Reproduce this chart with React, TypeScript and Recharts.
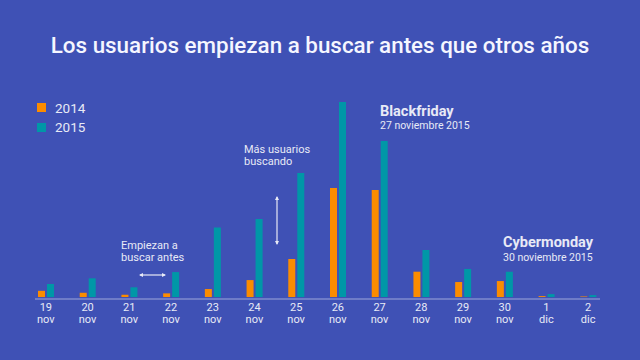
import { BarChart, Bar, XAxis, YAxis, Legend, Customized } from "recharts";

const days = ["19", "20", "21", "22", "23", "24", "25", "26", "27", "28", "29", "30", "1", "2"];
const months = ["nov", "nov", "nov", "nov", "nov", "nov", "nov", "nov", "nov", "nov", "nov", "nov", "dic", "dic"];
// search interest index, peak (26 nov 2015) = 100
const y2014 = [3.2, 2.2, 1.2, 1.9, 4.1, 8.7, 19.5, 55.9, 54.9, 13, 7.7, 8.2, 0.5, 0.3];
const y2015 = [6.7, 9.6, 5, 12.8, 35.7, 40, 63.6, 100, 80, 24.1, 14.4, 13, 1.5, 1.0];

const BG = "#3F51B5";
const ORANGE = "#FB8C00";
const TEAL = "#0097A7";
const TEXT = "#E8EAF6";
const LINE = "#9FA8DA";

const data = days.map((d, i) => ({
  name: `${d} ${months[i]}`,
  day: d,
  month: months[i],
  v2014: y2014[i],
  v2015: y2015[i],
}));

function DayTick(props: any) {
  const { x, y, index } = props;
  return (
    <text x={x} y={y} textAnchor="middle" fill={TEXT} fontSize={11} fontFamily="Roboto">
      <tspan x={x} dy={4}>{days[index]}</tspan>
      <tspan x={x} dy={12}>{months[index]}</tspan>
    </text>
  );
}

function LegendBox() {
  const items = [
    { label: "2014", color: ORANGE },
    { label: "2015", color: TEAL },
  ];
  return (
    <div style={{ fontFamily: "Roboto", fontSize: 13.5, color: TEXT }}>
      {items.map((it) => (
        <div key={it.label} style={{ display: "flex", alignItems: "center", height: 19.5 }}>
          <span style={{ width: 9, height: 9, background: it.color, marginRight: 9 }} />
          {it.label}
        </div>
      ))}
    </div>
  );
}

function Notes() {
  const f = { fontFamily: "Roboto", fill: TEXT };
  return (
    <g>
      <text x={380} y={115.5} fontSize={14.5} fontWeight={700} {...f}>Blackfriday</text>
      <text x={380} y={128.5} fontSize={10.5} {...f}>27 noviembre  2015</text>
      <text x={503} y={247} fontSize={14.5} fontWeight={700} {...f}>Cybermonday</text>
      <text x={503} y={261} fontSize={10.5} {...f}>30 noviembre 2015</text>
      <text x={244} y={153} fontSize={11} {...f}>Más usuarios</text>
      <text x={244} y={165} fontSize={11} {...f}>buscando</text>
      <text x={121} y={249} fontSize={11} {...f}>Empiezan a</text>
      <text x={121} y={261} fontSize={11} {...f}>buscar antes</text>
      <g stroke={TEXT} strokeWidth={1.2}>
        <line x1={140} y1={275} x2={165} y2={275} />
        <line x1={277} y1={197} x2={277} y2={244} />
      </g>
      <g fill={TEXT}>
        <polygon points="139,275 143,273 143,277" />
        <polygon points="166,275 162,273 162,277" />
        <polygon points="277,196 275,200 279,200" />
        <polygon points="277,245 275,241 279,241" />
      </g>
    </g>
  );
}

export default function App() {
  return (
    <div style={{ position: "fixed", left: 0, top: 0, width: 640, height: 360, background: BG }}>
      <div
        style={{
          position: "absolute",
          top: 32,
          width: 640,
          textAlign: "center",
          fontFamily: "Roboto",
          fontSize: 22.4,
          fontWeight: 500,
          color: "#F5F6FF",
        }}
      >
        Los usuarios empiezan a buscar antes que otros años
      </div>
      <BarChart
        width={640}
        height={360}
        data={data}
        margin={{ top: 87, right: 40, left: 35, bottom: 31 }}
        barSize={7}
        barGap={2}
      >
        <XAxis
          dataKey="name"
          height={30}
          interval={0}
          padding={{ left: -10, right: -9 }}
          axisLine={{ stroke: LINE }}
          tickLine={false}
          tick={<DayTick />}
        />
        <YAxis yAxisId="l" hide domain={[-1, 107.7]} allowDataOverflow />
        <YAxis yAxisId="r" orientation="right" width={0} tick={false} tickLine={false} axisLine={{ stroke: LINE, strokeOpacity: 0.8 }} />
        <Legend
          layout="vertical"
          align="center"
          verticalAlign="middle"
          wrapperStyle={{ left: 37, top: 98, width: 80 }}
          content={<LegendBox />}
        />
        <Bar yAxisId="l" dataKey="v2014" name="2014" fill={ORANGE} isAnimationActive={false} />
        <Bar yAxisId="l" dataKey="v2015" name="2015" fill={TEAL} isAnimationActive={false} />
        <Customized component={<Notes />} />
      </BarChart>
    </div>
  );
}
